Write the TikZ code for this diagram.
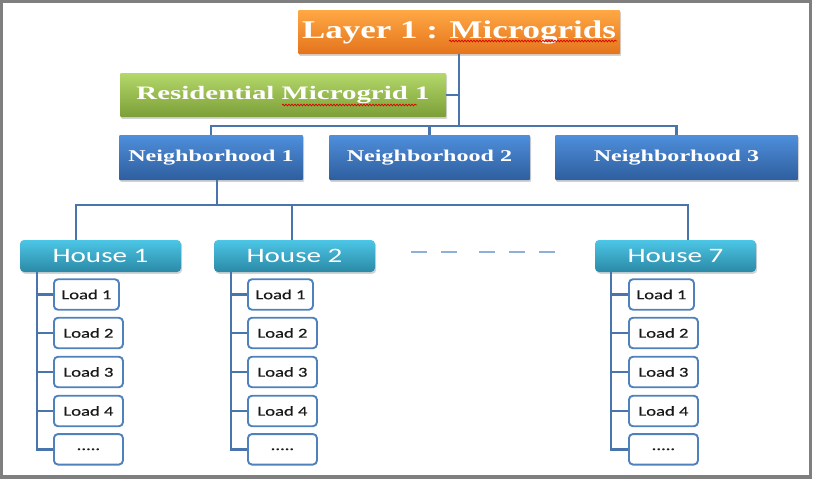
\documentclass[tikz,border=0pt]{standalone}
\usepackage{fontspec}
\usetikzlibrary{shadows,decorations.pathmorphing}
\newfontfamily\tnrfont{Liberation Serif}
\newfontfamily\calfont{Carlito}
\definecolor{orT}{HTML}{FFA844}
\definecolor{orB}{HTML}{E4741C}
\definecolor{grT}{HTML}{B4D86A}
\definecolor{grB}{HTML}{7C9E38}
\definecolor{blT}{HTML}{4F8FDB}
\definecolor{blB}{HTML}{2E5E9E}
\definecolor{tlT}{HTML}{4CC6E6}
\definecolor{tlB}{HTML}{2B89A6}
\definecolor{connC}{HTML}{4A74AC}
\definecolor{loadB}{HTML}{4F81BD}
\definecolor{dashC}{HTML}{8EB0D8}
\definecolor{frameC}{HTML}{7F7F7F}
\begin{document}
\begin{tikzpicture}[x=1pt,y=-1pt,
  boxbase/.style={rectangle, inner sep=0pt, text=white,
    drop shadow={shadow xshift=1.2pt, shadow yshift=-1.8pt, opacity=0.35}},
  layerbox/.style={boxbase, rounded corners=1pt, minimum width=322pt, minimum height=44pt,
    top color=orT, bottom color=orB,
    font=\tnrfont\bfseries\fontsize{25.5}{25.5}\selectfont\addfontfeature{FakeStretch=1.37}},
  resbox/.style={boxbase, rounded corners=1pt, minimum width=326pt, minimum height=44pt,
    top color=grT, bottom color=grB,
    font=\tnrfont\bfseries\fontsize{19}{19}\selectfont\addfontfeature{FakeStretch=1.52}},
  nbbox/.style={boxbase, rounded corners=1pt, minimum height=45pt,
    top color=blT, bottom color=blB,
    font=\tnrfont\bfseries\fontsize{16.5}{16.5}\selectfont\addfontfeature{FakeStretch=1.46}},
  housebox/.style={boxbase, rounded corners=4pt, minimum width=161pt, minimum height=32pt,
    top color=tlT, bottom color=tlB,
    font=\calfont\fontsize{20.5}{20.5}\selectfont\addfontfeature{FakeStretch=1.42}},
  loadbox/.style={rectangle, draw=loadB, line width=1.9pt, fill=white, rounded corners=4pt,
    inner sep=0pt, minimum height=30.5pt, text=black!90,
    font=\calfont\fontsize{13.6}{13.6}\selectfont\addfontfeature{FakeStretch=1.37,FakeBold=0.6}},
  conn/.style={draw=connC, line width=2.9pt},
  squig/.style={draw=red!85!black, line width=0.7pt,
    decorate, decoration={snake, amplitude=0.9pt, segment length=3pt}}
]
\useasboundingbox (0,0) rectangle (813,479);
\draw[frameC, line width=3.5pt] (1.5,1.5) rectangle (810.5,477);

% top level
\node[layerbox] (layer) at (459,32) {Layer 1 : Microgrids};
\node[resbox] (res) at (283,95) {Residential Microgrid 1};
\node[nbbox, minimum width=184pt] (n1) at (211,157.5) {Neighborhood 1};
\node[nbbox, minimum width=201pt] (n2) at (429.5,157.5) {Neighborhood 2};
\node[nbbox, minimum width=243pt] (n3) at (676.5,157.5) {Neighborhood 3};

\draw[squig] (449,41) -- (617,41);
\draw[squig] (282,105) -- (417,105);

\draw[conn] (layer.south) -- (layer.south |- 0,126);
\draw[conn] (res.east) -- (res.east -| layer.south);
\draw[conn] (n1.north) |- (n3.north |- 0,126) -- (n3.north);
\draw[conn] (n2.north) -- (n2.north |- 0,126);

% houses
\node[housebox] (h1) at (100.5,256) {House 1};
\node[housebox] (h2) at (294.5,256) {House 2};
\node[housebox] (h7) at (675.5,256) {House 7};

\coordinate (nd) at ([xshift=6pt]n1.south);
\coordinate (d1) at ([xshift=-24.5pt]h1.north);
\coordinate (d2) at ([xshift=-2.5pt]h2.north);
\coordinate (d7) at ([xshift=12.5pt]h7.north);
\draw[conn] (nd) -- (nd |- 0,205);
\draw[conn] (d1) |- (d7 |- 0,205) -- (d7);
\draw[conn] (d2) -- (d2 |- 0,205);

\coordinate (ds) at (411,252);
\coordinate (de) at (555,252);
\draw[dashC, line width=2pt,
  dash pattern=on 16pt off 14pt on 16pt off 22pt on 16pt off 14pt on 16pt off 14pt on 16pt off 40pt]
  (ds) -- (de);

% loads
\foreach \h/\bx/\vx in {1/53/37, 2/247/231, 7/628/611}{
  \coordinate (v\h) at (h\h.south -| \vx,0);
  \node[loadbox, minimum width=65pt, anchor=west] (h\h l1) at (\bx,294.5) {Load 1};
  \node[loadbox, minimum width=69pt, anchor=west] (h\h l2) at (\bx,333) {Load 2};
  \node[loadbox, minimum width=69pt, anchor=west] (h\h l3) at (\bx,372) {Load 3};
  \node[loadbox, minimum width=69pt, anchor=west] (h\h l4) at (\bx,411) {Load 4};
  \node[loadbox, minimum width=69pt, anchor=west] (h\h l5) at (\bx,449.3) {.....};
  \draw[conn] (v\h) |- (h\h l5.west);
  \foreach \k in {1,2,3,4}{
    \draw[conn] (h\h l\k.west) -- (h\h l\k.west -| v\h);
  }
}
\end{tikzpicture}
\end{document}
